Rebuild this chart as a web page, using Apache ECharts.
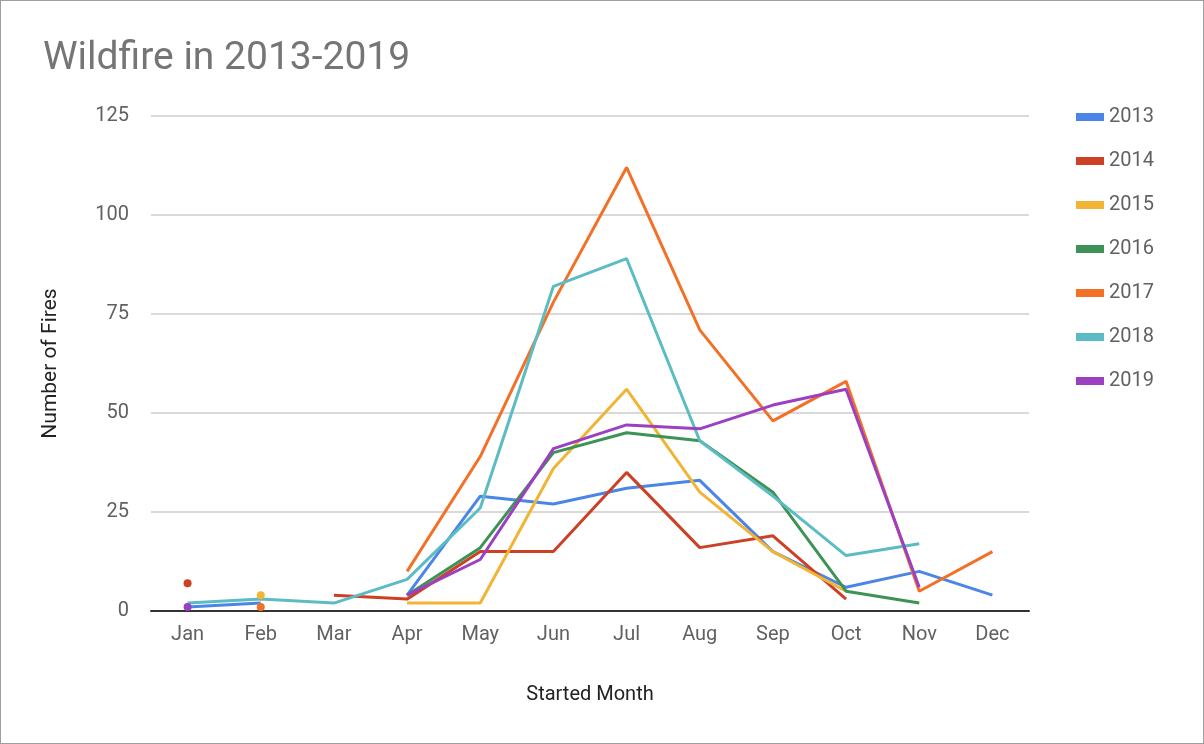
<!DOCTYPE html>
<html>
<head>
<meta charset="utf-8">
<script src="https://cdn.jsdelivr.net/npm/echarts@6/dist/echarts.min.js"></script>
<style>
  html, body { margin: 0; padding: 0; background: #fff; }
  #main { width: 1202px; height: 742px; border: 1px solid #9e9e9e; }
</style>
</head>
<body>
<div id="main"></div>
<script>
var months = ['Jan', 'Feb', 'Mar', 'Apr', 'May', 'Jun', 'Jul', 'Aug', 'Sep', 'Oct', 'Nov', 'Dec'];
var years = ['2013', '2014', '2015', '2016', '2017', '2018', '2019'];
var colors = ['#4a86e8', '#cc4125', '#f1b434', '#3d9356', '#f27127', '#5cbcc4', '#9c3fc1'];

var fires2013 = [1, 2, null, 4, 29, 27, 31, 33, 15, 6, 10, 4];
var fires2014 = [7, null, 4, 3, 15, 15, 35, 16, 19, 3, null, null];
var fires2015 = [null, 4, null, 2, 2, 36, 56, 30, 15, 5, null, null];
var fires2016 = [null, null, null, 4, 16, 40, 45, 43, 30, 5, 2, null];
var fires2017 = [null, 1, null, 10, 39, 78, 112, 71, 48, 58, 5, 15];
var fires2018 = [2, 3, 2, 8, 26, 82, 89, 43, 29, 14, 17, null];
var fires2019 = [1, null, null, 4, 13, 41, 47, 46, 52, 56, 6, null];
var allFires = [fires2013, fires2014, fires2015, fires2016, fires2017, fires2018, fires2019];

// isolated points get a dot, everything else is a plain line
function toData(arr) {
  return arr.map(function (v, i) {
    if (v === null) return null;
    var prev = i > 0 ? arr[i - 1] : null;
    var next = i < arr.length - 1 ? arr[i + 1] : null;
    if (prev === null && next === null) {
      return { value: v, symbol: 'circle', symbolSize: 8 };
    }
    return { value: v, symbol: 'none' };
  });
}

var chart = echarts.init(document.getElementById('main'));
var textColor = '#616161';

chart.setOption({
  color: colors,
  title: {
    text: 'Wildfire in 2013-2019',
    left: 37, top: 34,
    textStyle: { fontFamily: 'Roboto', fontSize: 39, fontWeight: 'normal', color: '#757575' }
  },
  legend: {
    orient: 'vertical',
    left: 1070, top: 101,
    itemGap: 24,
    itemWidth: 28, itemHeight: 8,
    icon: 'rect',
    data: years,
    textStyle: { fontFamily: 'Roboto', fontSize: 20, color: textColor }
  },
  grid: { left: 150, right: 174, top: 115, bottom: 132 },
  xAxis: {
    type: 'category',
    data: months,
    name: 'Started Month',
    nameLocation: 'middle',
    nameGap: 74,
    nameTextStyle: { fontFamily: 'Roboto', fontSize: 20, color: '#222' },
    axisTick: { show: false },
    axisLine: { lineStyle: { color: '#333', width: 2 } },
    axisLabel: { fontFamily: 'Roboto', fontSize: 20, color: textColor, margin: 14 }
  },
  yAxis: {
    type: 'value',
    min: 0, max: 125, interval: 25,
    name: 'Number of Fires',
    nameLocation: 'middle',
    nameGap: 90,
    nameTextStyle: { fontFamily: 'Roboto', fontSize: 21, color: '#222' },
    axisLine: { show: false },
    axisTick: { show: false },
    axisLabel: { fontFamily: 'Roboto', fontSize: 20, color: textColor, margin: 22 },
    splitLine: { lineStyle: { color: '#cccccc', width: 1.5 } }
  },
  series: years.map(function (y, i) {
    return {
      name: y,
      type: 'line',
      data: toData(allFires[i]),
      symbol: 'none',
      connectNulls: false,
      lineStyle: { width: 3 },
      emphasis: { disabled: true }
    };
  })
});
</script>
</body>
</html>
